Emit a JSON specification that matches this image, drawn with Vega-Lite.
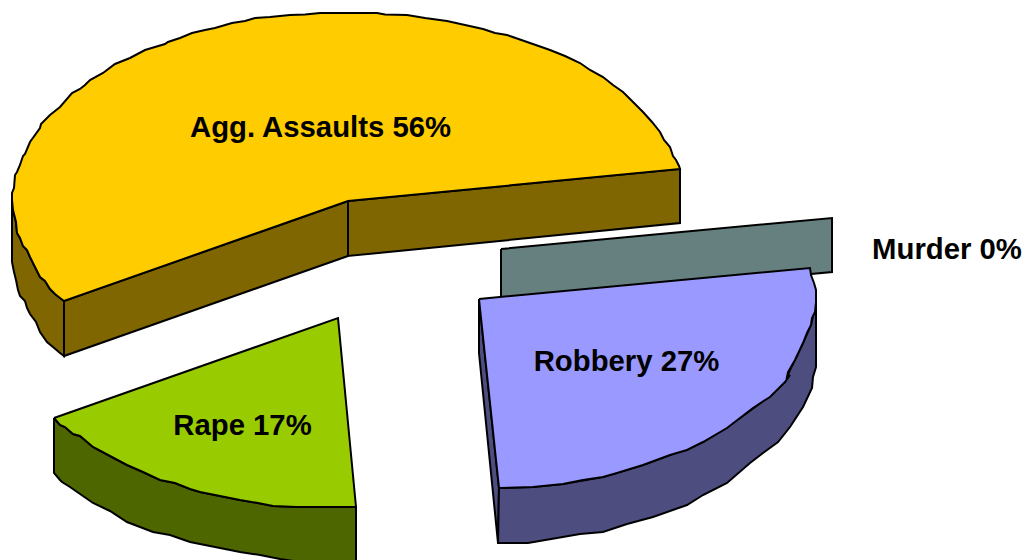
{"$schema":"https://vega.github.io/schema/vega-lite/v6.json","width":1029,"height":560,"padding":0,"autosize":{"type":"none"},"background":"white","view":{"stroke":null},
"datasets":{"shapes":[
{"s":"a1","i":0,"x":12,"y":200},{"s":"a1","i":1,"x":13,"y":210},{"s":"a1","i":2,"x":16,"y":222},{"s":"a1","i":3,"x":17,"y":233},{"s":"a1","i":4,"x":20,"y":238},{"s":"a1","i":5,"x":23,"y":246},{"s":"a1","i":6,"x":27,"y":250},{"s":"a1","i":7,"x":30,"y":257},{"s":"a1","i":8,"x":33,"y":263},{"s":"a1","i":9,"x":40,"y":277},{"s":"a1","i":10,"x":45,"y":281},{"s":"a1","i":11,"x":50,"y":289},{"s":"a1","i":12,"x":55,"y":294},{"s":"a1","i":13,"x":60,"y":298},{"s":"a1","i":14,"x":64,"y":301},{"s":"a1","i":15,"x":64,"y":356},{"s":"a1","i":16,"x":60,"y":353},{"s":"a1","i":17,"x":53,"y":347},{"s":"a1","i":18,"x":47,"y":342},{"s":"a1","i":19,"x":40,"y":332},{"s":"a1","i":20,"x":36,"y":322},{"s":"a1","i":21,"x":30,"y":314},{"s":"a1","i":22,"x":27,"y":308},{"s":"a1","i":23,"x":25,"y":301},{"s":"a1","i":24,"x":20,"y":296},{"s":"a1","i":25,"x":18,"y":290},{"s":"a1","i":26,"x":16,"y":280},{"s":"a1","i":27,"x":14,"y":272},{"s":"a1","i":28,"x":12,"y":262},{"s":"a1","i":29,"x":12,"y":200},
{"s":"a2","i":0,"x":64,"y":301},{"s":"a2","i":1,"x":348,"y":201},{"s":"a2","i":2,"x":348,"y":256},{"s":"a2","i":3,"x":64,"y":356},{"s":"a2","i":4,"x":64,"y":301},
{"s":"a3","i":0,"x":348,"y":201},{"s":"a3","i":1,"x":680,"y":169},{"s":"a3","i":2,"x":680,"y":223},{"s":"a3","i":3,"x":348,"y":256},{"s":"a3","i":4,"x":348,"y":201},
{"s":"a4","i":0,"x":12,"y":200},{"s":"a4","i":1,"x":12,"y":193},{"s":"a4","i":2,"x":14,"y":188},{"s":"a4","i":3,"x":15,"y":175},{"s":"a4","i":4,"x":17,"y":172},{"s":"a4","i":5,"x":20,"y":165},{"s":"a4","i":6,"x":23,"y":156},{"s":"a4","i":7,"x":25,"y":154},{"s":"a4","i":8,"x":30,"y":142},{"s":"a4","i":9,"x":40,"y":128},{"s":"a4","i":10,"x":41,"y":124},{"s":"a4","i":11,"x":50,"y":115},{"s":"a4","i":12,"x":60,"y":107},{"s":"a4","i":13,"x":72,"y":93},{"s":"a4","i":14,"x":80,"y":89},{"s":"a4","i":15,"x":85,"y":85},{"s":"a4","i":16,"x":90,"y":80},{"s":"a4","i":17,"x":103,"y":73},{"s":"a4","i":18,"x":115,"y":64},{"s":"a4","i":19,"x":130,"y":58},{"s":"a4","i":20,"x":145,"y":50},{"s":"a4","i":21,"x":155,"y":47},{"s":"a4","i":22,"x":165,"y":44},{"s":"a4","i":23,"x":168,"y":42},{"s":"a4","i":24,"x":180,"y":38},{"s":"a4","i":25,"x":192,"y":33},{"s":"a4","i":26,"x":205,"y":30},{"s":"a4","i":27,"x":215,"y":28},{"s":"a4","i":28,"x":232,"y":23},{"s":"a4","i":29,"x":245,"y":21},{"s":"a4","i":30,"x":255,"y":18},{"s":"a4","i":31,"x":270,"y":17},{"s":"a4","i":32,"x":290,"y":15},{"s":"a4","i":33,"x":305,"y":14.5},{"s":"a4","i":34,"x":320,"y":13},{"s":"a4","i":35,"x":345,"y":13},{"s":"a4","i":36,"x":377,"y":13},{"s":"a4","i":37,"x":385,"y":14.5},{"s":"a4","i":38,"x":407,"y":15},{"s":"a4","i":39,"x":425,"y":18},{"s":"a4","i":40,"x":447,"y":21},{"s":"a4","i":41,"x":465,"y":25},{"s":"a4","i":42,"x":483,"y":29},{"s":"a4","i":43,"x":495,"y":33},{"s":"a4","i":44,"x":507,"y":35},{"s":"a4","i":45,"x":530,"y":43},{"s":"a4","i":46,"x":550,"y":50},{"s":"a4","i":47,"x":565,"y":56},{"s":"a4","i":48,"x":580,"y":63},{"s":"a4","i":49,"x":590,"y":70},{"s":"a4","i":50,"x":603,"y":77},{"s":"a4","i":51,"x":613,"y":85},{"s":"a4","i":52,"x":623,"y":92},{"s":"a4","i":53,"x":633,"y":102},{"s":"a4","i":54,"x":643,"y":112},{"s":"a4","i":55,"x":652,"y":122},{"s":"a4","i":56,"x":660,"y":132},{"s":"a4","i":57,"x":664,"y":140},{"s":"a4","i":58,"x":670,"y":147},{"s":"a4","i":59,"x":673,"y":156},{"s":"a4","i":60,"x":676,"y":160},{"s":"a4","i":61,"x":679,"y":166},{"s":"a4","i":62,"x":680,"y":169},{"s":"a4","i":63,"x":348,"y":201},{"s":"a4","i":64,"x":64,"y":301},{"s":"a4","i":65,"x":60,"y":298},{"s":"a4","i":66,"x":55,"y":294},{"s":"a4","i":67,"x":50,"y":289},{"s":"a4","i":68,"x":45,"y":281},{"s":"a4","i":69,"x":40,"y":277},{"s":"a4","i":70,"x":33,"y":263},{"s":"a4","i":71,"x":30,"y":257},{"s":"a4","i":72,"x":27,"y":250},{"s":"a4","i":73,"x":23,"y":246},{"s":"a4","i":74,"x":20,"y":238},{"s":"a4","i":75,"x":17,"y":233},{"s":"a4","i":76,"x":16,"y":222},{"s":"a4","i":77,"x":13,"y":210},{"s":"a4","i":78,"x":12,"y":200},
{"s":"r1","i":0,"x":54,"y":418},{"s":"r1","i":1,"x":60,"y":425},{"s":"r1","i":2,"x":65,"y":427},{"s":"r1","i":3,"x":73,"y":434},{"s":"r1","i":4,"x":80,"y":436},{"s":"r1","i":5,"x":93,"y":447},{"s":"r1","i":6,"x":110,"y":456},{"s":"r1","i":7,"x":127,"y":465},{"s":"r1","i":8,"x":143,"y":472},{"s":"r1","i":9,"x":160,"y":480},{"s":"r1","i":10,"x":175,"y":483},{"s":"r1","i":11,"x":190,"y":489},{"s":"r1","i":12,"x":200,"y":492},{"s":"r1","i":13,"x":220,"y":496},{"s":"r1","i":14,"x":240,"y":500},{"s":"r1","i":15,"x":258,"y":503},{"s":"r1","i":16,"x":273,"y":506},{"s":"r1","i":17,"x":297,"y":507},{"s":"r1","i":18,"x":356,"y":507},{"s":"r1","i":19,"x":356,"y":563},{"s":"r1","i":20,"x":300,"y":562},{"s":"r1","i":21,"x":280,"y":559},{"s":"r1","i":22,"x":260,"y":555},{"s":"r1","i":23,"x":240,"y":552},{"s":"r1","i":24,"x":215,"y":547},{"s":"r1","i":25,"x":190,"y":542},{"s":"r1","i":26,"x":170,"y":535},{"s":"r1","i":27,"x":153,"y":532},{"s":"r1","i":28,"x":140,"y":527},{"s":"r1","i":29,"x":127,"y":522},{"s":"r1","i":30,"x":110,"y":511},{"s":"r1","i":31,"x":93,"y":503},{"s":"r1","i":32,"x":70,"y":487},{"s":"r1","i":33,"x":62,"y":482},{"s":"r1","i":34,"x":60,"y":480},{"s":"r1","i":35,"x":54,"y":473},{"s":"r1","i":36,"x":54,"y":418},
{"s":"r2","i":0,"x":54,"y":418},{"s":"r2","i":1,"x":338,"y":318},{"s":"r2","i":2,"x":356,"y":507},{"s":"r2","i":3,"x":297,"y":507},{"s":"r2","i":4,"x":273,"y":506},{"s":"r2","i":5,"x":258,"y":503},{"s":"r2","i":6,"x":240,"y":500},{"s":"r2","i":7,"x":220,"y":496},{"s":"r2","i":8,"x":200,"y":492},{"s":"r2","i":9,"x":190,"y":489},{"s":"r2","i":10,"x":175,"y":483},{"s":"r2","i":11,"x":160,"y":480},{"s":"r2","i":12,"x":143,"y":472},{"s":"r2","i":13,"x":127,"y":465},{"s":"r2","i":14,"x":110,"y":456},{"s":"r2","i":15,"x":93,"y":447},{"s":"r2","i":16,"x":80,"y":436},{"s":"r2","i":17,"x":73,"y":434},{"s":"r2","i":18,"x":65,"y":427},{"s":"r2","i":19,"x":60,"y":425},{"s":"r2","i":20,"x":54,"y":418},
{"s":"m","i":0,"x":501,"y":249},{"s":"m","i":1,"x":832,"y":218},{"s":"m","i":2,"x":832,"y":272},{"s":"m","i":3,"x":501,"y":303},{"s":"m","i":4,"x":501,"y":249},
{"s":"b1","i":0,"x":479,"y":299},{"s":"b1","i":1,"x":499,"y":488},{"s":"b1","i":2,"x":498,"y":543},{"s":"b1","i":3,"x":479,"y":353},{"s":"b1","i":4,"x":479,"y":299},
{"s":"b2","i":0,"x":816,"y":302},{"s":"b2","i":1,"x":816,"y":367},{"s":"b2","i":2,"x":813,"y":377},{"s":"b2","i":3,"x":812,"y":388},{"s":"b2","i":4,"x":803,"y":407},{"s":"b2","i":5,"x":790,"y":427},{"s":"b2","i":6,"x":778,"y":442},{"s":"b2","i":7,"x":763,"y":453},{"s":"b2","i":8,"x":750,"y":463},{"s":"b2","i":9,"x":727,"y":483},{"s":"b2","i":10,"x":703,"y":495},{"s":"b2","i":11,"x":687,"y":505},{"s":"b2","i":12,"x":653,"y":517},{"s":"b2","i":13,"x":627,"y":524},{"s":"b2","i":14,"x":603,"y":532},{"s":"b2","i":15,"x":580,"y":534},{"s":"b2","i":16,"x":557,"y":538},{"s":"b2","i":17,"x":528,"y":543},{"s":"b2","i":18,"x":498,"y":543},{"s":"b2","i":19,"x":499,"y":488},{"s":"b2","i":20,"x":533,"y":487},{"s":"b2","i":21,"x":563,"y":484},{"s":"b2","i":22,"x":603,"y":477},{"s":"b2","i":23,"x":643,"y":465},{"s":"b2","i":24,"x":670,"y":455},{"s":"b2","i":25,"x":703,"y":442},{"s":"b2","i":26,"x":740,"y":418},{"s":"b2","i":27,"x":762,"y":402},{"s":"b2","i":28,"x":785,"y":382},{"s":"b2","i":29,"x":790,"y":370},{"s":"b2","i":30,"x":803,"y":343},{"s":"b2","i":31,"x":811,"y":325},{"s":"b2","i":32,"x":816,"y":302},
{"s":"b3","i":0,"x":479,"y":299},{"s":"b3","i":1,"x":810,"y":268},{"s":"b3","i":2,"x":811,"y":275},{"s":"b3","i":3,"x":814,"y":283},{"s":"b3","i":4,"x":816,"y":290},{"s":"b3","i":5,"x":816,"y":302},{"s":"b3","i":6,"x":815,"y":312},{"s":"b3","i":7,"x":812,"y":318},{"s":"b3","i":8,"x":811,"y":325},{"s":"b3","i":9,"x":807,"y":333},{"s":"b3","i":10,"x":803,"y":343},{"s":"b3","i":11,"x":795,"y":360},{"s":"b3","i":12,"x":788,"y":372},{"s":"b3","i":13,"x":787,"y":377},{"s":"b3","i":14,"x":790,"y":375},{"s":"b3","i":15,"x":785,"y":382},{"s":"b3","i":16,"x":770,"y":397},{"s":"b3","i":17,"x":762,"y":402},{"s":"b3","i":18,"x":753,"y":408},{"s":"b3","i":19,"x":740,"y":418},{"s":"b3","i":20,"x":727,"y":428},{"s":"b3","i":21,"x":703,"y":442},{"s":"b3","i":22,"x":687,"y":450},{"s":"b3","i":23,"x":670,"y":455},{"s":"b3","i":24,"x":643,"y":465},{"s":"b3","i":25,"x":617,"y":473},{"s":"b3","i":26,"x":603,"y":477},{"s":"b3","i":27,"x":583,"y":480},{"s":"b3","i":28,"x":563,"y":484},{"s":"b3","i":29,"x":533,"y":487},{"s":"b3","i":30,"x":499,"y":488},{"s":"b3","i":31,"x":479,"y":299}
],"labels":[{"label":"Agg. Assaults 56%","x":320.5,"y":128},{"label":"Rape 17%","x":242.5,"y":425.5},{"label":"Robbery 27%","x":626.5,"y":361.5},{"label":"Murder 0%","x":947,"y":249.5}]},
"layer":[
{"data":{"name":"shapes"},
"mark":{"type":"line","stroke":"black","strokeWidth":2,"clip":true,"strokeJoin":"miter"},
"encoding":{
"x":{"field":"x","type":"quantitative","scale":{"domain":[0,1029],"nice":false,"zero":false},"axis":null},
"y":{"field":"y","type":"quantitative","scale":{"domain":[560,0],"nice":false,"zero":false},"axis":null},
"order":{"field":"i","type":"quantitative"},
"fill":{"field":"s","type":"nominal","legend":null,"sort":null,"scale":{"domain":["a1","a2","a3","a4","r1","r2","m","b1","b2","b3"],"range":["#806600","#806600","#806600","#FFCC00","#4D6600","#99CC00","#668080","#4D4D80","#4D4D80","#9999FF"]}}
}},
{"data":{"name":"labels"},
"mark":{"type":"text","font":"Liberation Sans","fontWeight":"bold","fontSize":29.3,"color":"black","align":"center","baseline":"middle"},
"encoding":{
"x":{"field":"x","type":"quantitative","scale":{"domain":[0,1029],"nice":false,"zero":false},"axis":null},
"y":{"field":"y","type":"quantitative","scale":{"domain":[560,0],"nice":false,"zero":false},"axis":null},
"text":{"field":"label","type":"nominal"}
}}
]}
